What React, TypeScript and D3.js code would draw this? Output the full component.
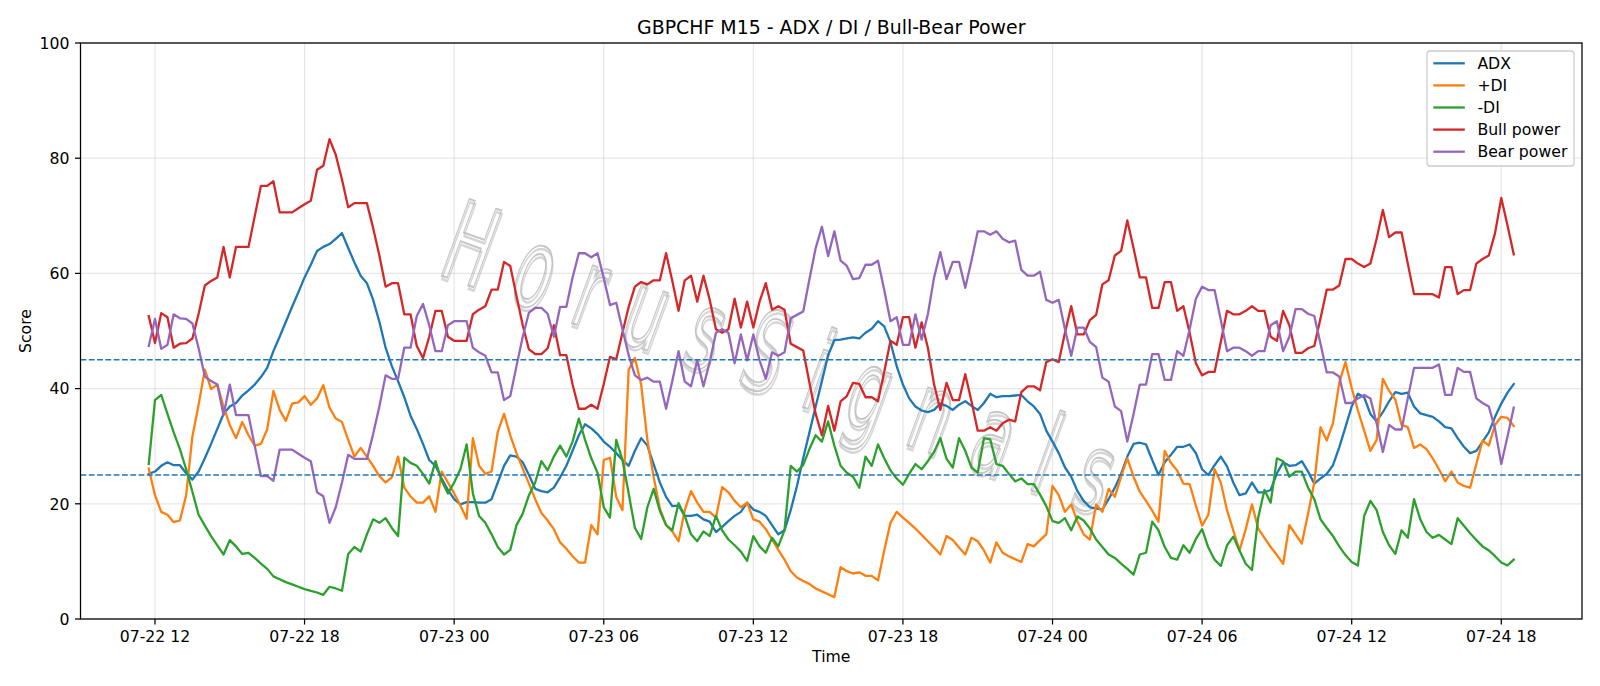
import React from "react";
import * as d3 from "d3";

// GBPCHF M15 bars, 15-minute spacing starting 07-22 11:45 (UTC)
const START_MS = Date.UTC(2025, 6, 22, 11, 45);
const STEP_MS = 15 * 60 * 1000;

const adx = [
  25.2, 25.6, 26.6, 27.2, 26.7, 26.7, 25.3, 24.2, 25.6, 27.9,
  30.4, 33.0, 35.6, 36.9, 37.5, 38.8, 39.7, 40.7, 42.0, 43.6,
  46.5, 49.0, 51.6, 54.2, 56.7, 59.3, 61.5, 63.9, 64.6, 65.1,
  66.0, 67.0, 64.4, 61.9, 59.6, 58.3,
  55.4, 51.6, 47.1, 43.9, 41.3, 38.5, 35.3, 33.0, 30.4, 27.6,
  26.6, 24.4, 22.4, 20.8, 19.9, 20.3, 20.3, 20.2, 20.2, 20.8,
  23.7, 26.6, 28.4, 28.2, 27.2, 25.0, 22.6, 22.2, 22.0, 22.8,
  24.6, 26.6, 29.2, 31.9, 33.8, 33.1, 32.1,
  30.8, 29.9, 28.8, 27.6, 26.6, 29.2, 31.4, 30.1, 26.9, 23.7,
  21.2, 19.6, 19.7, 17.9, 17.9, 18.1, 17.3, 16.9, 15.1, 16.0,
  17.0, 17.9, 18.6, 20.2, 19.0, 18.6, 17.9, 16.3, 14.7, 15.4,
  18.9, 23.1, 27.9, 32.4, 36.9, 41.3, 45.8,
  48.4, 48.5, 48.7, 48.9, 48.7, 49.7, 50.4, 51.7, 50.8, 48.1,
  43.9, 40.7, 38.3, 36.9, 36.2, 35.9, 36.3, 37.4, 37.0, 36.3,
  37.2, 37.8, 37.0, 36.3, 37.5, 39.1, 38.5, 38.7, 38.7, 38.8,
  38.9, 37.8, 36.9, 35.6, 32.7, 30.8, 28.8,
  26.3, 24.7, 22.2, 20.5, 19.4, 19.2, 19.0, 20.8, 22.8, 25.2,
  28.2, 30.4, 30.6, 30.3, 27.6, 25.0, 27.2, 28.5, 29.9, 29.9,
  30.3, 28.8, 26.0, 25.0, 26.7, 28.2, 26.5, 23.7, 21.5, 21.8,
  23.7, 22.0, 22.0, 22.4, 25.3, 27.2, 26.6,
  26.7, 27.4, 25.6, 23.5, 24.4, 25.2, 26.7, 29.8, 33.3, 36.9,
  39.1, 38.5, 35.6, 34.3, 35.9, 37.8, 39.4, 39.1, 39.3, 36.9,
  35.7, 35.4, 35.1, 34.3, 33.3, 33.1, 31.4, 29.9, 28.8, 29.2,
  30.8, 32.4, 35.1, 37.4, 39.3, 40.8,
];

const plusDi = [
  26.1, 21.5, 18.6, 18.1, 16.8, 17.1, 21.5, 31.7, 37.2, 43.3,
  39.9, 40.7, 36.9, 33.7, 31.4, 34.2, 31.9, 30.1, 30.4, 32.9,
  39.6, 36.3, 34.4, 37.4, 37.6, 38.7, 37.2, 38.3, 40.6, 36.7,
  34.8, 34.2, 31.1, 28.2, 29.7, 28.2,
  26.6, 24.8, 23.7, 24.6, 28.2, 22.8, 21.3, 20.2, 20.2, 21.3,
  18.6, 25.6, 23.7, 21.8, 19.7, 17.4, 31.4, 26.6, 25.2, 25.6,
  32.5, 35.6, 31.9, 28.8, 26.1, 23.5, 20.8, 18.4, 17.1, 15.6,
  13.3, 12.2, 10.9, 9.8, 9.8, 16.3, 14.7,
  27.6, 28.0, 21.2, 18.9, 43.3, 45.3, 40.7, 31.1, 24.7, 19.2,
  16.3, 15.2, 13.5, 18.9, 22.2, 20.2, 18.6, 18.6, 17.6, 22.9,
  22.0, 20.5, 19.4, 20.2, 17.3, 16.9, 15.6, 13.8, 12.0, 10.3,
  8.3, 7.2, 6.6, 6.1, 5.3, 4.8, 4.3,
  3.8, 9.0, 8.3, 7.9, 8.1, 7.5, 7.5, 6.7, 11.9, 16.7,
  18.6, 17.6, 16.7, 15.7, 14.6, 13.5, 12.4, 11.2, 14.4, 13.7,
  12.4, 11.2, 14.1, 13.5, 11.9, 9.8, 13.3, 11.5, 10.9, 10.4,
  9.9, 13.0, 12.6, 13.7, 14.7, 23.1, 21.5,
  18.6, 19.9, 16.9, 14.7, 13.8, 19.9, 18.6, 22.6, 21.2, 24.7,
  27.9, 24.7, 22.1, 20.5, 18.8, 16.9, 29.2, 27.1, 25.8, 23.5,
  23.4, 19.7, 16.2, 18.1, 26.0, 23.7, 18.9, 15.4, 11.9, 15.6,
  19.9, 15.7, 14.1, 12.5, 11.1, 9.6, 16.3,
  14.7, 13.1, 18.3, 23.7, 33.3, 31.0, 34.0, 41.0, 44.6, 40.1,
  36.2, 32.7, 29.2, 31.1, 41.7, 39.6, 38.1, 33.7, 33.3, 29.7,
  30.3, 29.5, 27.9, 26.0, 23.9, 25.6, 23.7, 23.1, 22.8, 26.9,
  31.0, 30.1, 33.7, 35.1, 34.9, 33.5,
];

const minusDi = [
  26.9, 38.0, 38.9, 35.6, 32.4, 29.5, 26.0, 22.1, 18.1, 16.2,
  14.4, 12.8, 11.2, 13.7, 12.6, 11.3, 11.5, 10.6, 9.6, 8.7,
  7.4, 6.9, 6.4, 6.0, 5.6, 5.2, 4.9, 4.6, 4.2, 5.6,
  5.3, 4.9, 11.3, 12.5, 11.7, 14.7,
  17.3, 16.7, 17.5, 15.8, 14.4, 28.0, 27.1, 26.6, 25.2, 23.5,
  27.4, 24.0, 21.8, 23.7, 26.0, 30.3, 21.8, 17.9, 16.7, 14.7,
  12.5, 11.2, 12.0, 16.3, 18.3, 21.5, 23.7, 27.4, 25.8, 28.2,
  30.1, 28.2, 30.8, 34.8, 31.1, 27.9, 25.4,
  19.4, 17.6, 31.1, 27.6, 21.8, 15.8, 13.9, 19.4, 22.6, 18.8,
  16.3, 15.4, 20.1, 17.9, 14.7, 13.5, 15.2, 14.4, 17.9, 15.4,
  13.8, 12.8, 11.7, 10.1, 14.4, 12.6, 11.5, 14.1, 12.6, 15.4,
  26.6, 25.6, 26.7, 29.5, 31.9, 30.8, 34.3,
  30.1, 26.6, 25.4, 24.7, 22.8, 28.2, 26.6, 30.3, 27.9, 25.8,
  24.4, 23.3, 25.2, 26.9, 26.0, 27.4, 29.0, 31.4, 27.8, 26.3,
  31.4, 29.2, 26.3, 25.4, 31.4, 31.2, 26.9, 26.6, 25.2, 23.9,
  24.4, 23.4, 23.4, 21.6, 19.6, 17.0, 16.7,
  17.5, 15.4, 17.8, 17.1, 15.7, 13.8, 12.5, 11.2, 10.6, 9.6,
  8.7, 7.7, 11.2, 11.5, 16.9, 15.4, 12.5, 10.6, 10.3, 12.8,
  11.5, 13.9, 15.6, 12.4, 10.3, 9.2, 12.8, 14.3, 11.9, 9.6,
  8.5, 17.6, 22.4, 20.2, 27.9, 27.4, 24.7,
  25.6, 25.6, 22.8, 20.8, 17.3, 15.8, 14.4, 12.6, 11.1, 9.9,
  9.3, 17.9, 20.5, 18.9, 15.1, 12.8, 11.3, 15.4, 14.1, 20.8,
  17.3, 15.1, 14.1, 14.6, 13.8, 13.0, 17.5, 16.2, 14.9, 13.7,
  12.6, 11.9, 10.9, 9.8, 9.3, 10.3,
];

const bullPower = [
  52.6, 47.9, 53.1, 52.4, 47.1, 47.8, 47.9, 48.7, 53.0, 57.9,
  58.7, 59.3, 64.6, 59.3, 64.6, 64.6, 64.6, 69.9, 75.2, 75.2,
  76.0, 70.6, 70.6, 70.6, 71.3, 72.0, 72.6, 78.0, 78.7, 83.3,
  80.6, 76.3, 71.5, 72.2, 72.2, 72.2,
  67.9, 63.1, 57.7, 58.3, 58.3, 52.9, 52.9, 47.4, 45.3, 49.0,
  53.5, 53.5, 49.0, 48.3, 48.3, 48.3, 52.9, 53.7, 54.3, 57.2,
  57.2, 62.0, 61.3, 56.1, 51.0, 46.8, 46.0, 46.0, 47.0, 51.0,
  45.8, 45.8, 40.7, 36.5, 36.5, 37.2, 36.5,
  40.8, 45.5, 45.1, 49.7, 54.2, 57.7, 58.5, 58.1, 58.8, 58.8,
  63.5, 58.7, 53.5, 58.8, 59.6, 55.1, 59.6, 55.4, 50.3, 49.7,
  50.3, 55.6, 50.6, 55.1, 50.6, 55.1, 58.3, 53.7, 54.3, 53.7,
  47.8, 47.2, 46.6, 41.0, 35.6, 31.9, 37.0,
  32.7, 37.8, 38.7, 41.0, 40.8, 38.5, 38.5, 37.8, 42.9, 48.3,
  47.6, 52.4, 52.4, 47.1, 51.5, 47.1, 40.7, 36.3, 41.0, 38.0,
  38.0, 42.5, 37.8, 32.7, 32.7, 33.3, 32.7, 34.0, 34.6, 34.3,
  39.4, 40.4, 40.4, 39.7, 44.6, 45.1, 44.6,
  49.7, 54.3, 49.4, 49.4, 51.9, 52.8, 58.1, 58.8, 63.1, 63.9,
  69.2, 64.4, 59.3, 59.3, 54.0, 54.0, 58.5, 58.5, 53.5, 54.3,
  49.7, 44.4, 42.3, 42.9, 42.9, 48.1, 53.5, 52.9, 52.9, 53.5,
  54.3, 53.5, 53.5, 49.0, 48.3, 53.5, 51.0,
  46.2, 46.2, 47.0, 47.4, 52.2, 57.2, 57.2, 57.9, 62.5, 62.5,
  61.7, 61.1, 61.7, 66.0, 71.0, 66.3, 67.1, 67.1, 61.7, 56.4,
  56.4, 56.4, 56.4, 55.8, 61.1, 61.1, 56.4, 57.1, 57.1, 61.7,
  62.5, 63.1, 67.0, 73.1, 68.3, 63.3,
];

const bearPower = [
  47.4, 52.1, 46.9, 47.6, 52.9, 52.2, 52.1, 51.3, 47.0, 42.1,
  41.3, 40.7, 35.4, 40.7, 35.4, 35.4, 35.4, 30.1, 24.8, 24.8,
  24.0, 29.4, 29.4, 29.4, 28.7, 28.0, 27.4, 22.0, 21.3, 16.7,
  19.4, 23.7, 28.5, 27.8, 27.8, 27.8,
  32.1, 36.9, 42.3, 41.7, 41.7, 47.1, 47.1, 52.6, 54.7, 51.0,
  46.5, 46.5, 51.0, 51.7, 51.7, 51.7, 47.1, 46.3, 45.7, 42.8,
  42.8, 38.0, 38.7, 43.9, 49.0, 53.2, 54.0, 54.0, 53.0, 49.0,
  54.2, 54.2, 59.3, 63.5, 63.5, 62.8, 63.5,
  59.2, 54.5, 54.9, 50.3, 45.8, 42.3, 41.5, 41.9, 41.2, 41.2,
  36.5, 41.3, 46.5, 41.2, 40.4, 44.9, 40.4, 44.6, 49.7, 50.3,
  49.7, 44.4, 49.4, 44.9, 49.4, 44.9, 41.7, 46.3, 45.7, 46.3,
  52.2, 52.8, 53.4, 59.0, 64.4, 68.1, 63.0,
  67.3, 62.2, 61.3, 59.0, 59.2, 61.5, 61.5, 62.2, 57.1, 51.7,
  52.4, 47.6, 47.6, 52.9, 48.5, 52.9, 59.3, 63.7, 59.0, 62.0,
  62.0, 57.5, 62.2, 67.3, 67.3, 66.7, 67.3, 66.0, 65.4, 65.7,
  60.6, 59.6, 59.6, 60.3, 55.4, 54.9, 55.4,
  50.3, 45.7, 50.6, 50.6, 48.1, 47.2, 41.9, 41.2, 36.9, 36.1,
  30.8, 35.6, 40.7, 40.7, 46.0, 46.0, 41.5, 41.5, 46.5, 45.7,
  50.3, 55.6, 57.7, 57.1, 57.1, 51.9, 46.5, 47.1, 47.1, 46.5,
  45.7, 46.5, 46.5, 51.0, 51.7, 46.5, 49.0,
  53.8, 53.8, 53.0, 52.6, 47.8, 42.8, 42.8, 42.1, 37.5, 37.5,
  38.3, 38.9, 38.3, 34.0, 29.0, 33.7, 32.9, 32.9, 38.3, 43.6,
  43.6, 43.6, 43.6, 44.2, 38.9, 38.9, 43.6, 42.9, 42.9, 38.3,
  37.5, 36.9, 33.0, 26.9, 31.7, 36.7,
];

const seriesNames = ["ADX", "+DI", "-DI", "Bull power", "Bear power"];
const seriesColors = ["#1f77b4", "#ff7f0e", "#2ca02c", "#d62728", "#9467bd"];
const seriesValues = [adx, plusDi, minusDi, bullPower, bearPower];

const yTicks = [0, 20, 40, 60, 80, 100];
const refLevels = [25, 45];

const TITLE = "GBPCHF M15 - ADX / DI / Bull-Bear Power";
const WATERMARK = "HorusSignals";

const W = 1600;
const H = 686;
const M = { left: 80.5, right: 1582, top: 43, bottom: 619 };
const FONT = "DejaVu Sans, Liberation Sans, sans-serif";

export default function App() {
  const times = adx.map((_, i) => new Date(START_MS + i * STEP_MS));
  const t0 = times[0].getTime();
  const t1 = times[times.length - 1].getTime();
  const pad = (t1 - t0) * 0.05;

  const x = d3
    .scaleUtc()
    .domain([new Date(t0 - pad), new Date(t1 + pad)])
    .range([M.left, M.right]);
  const y = d3.scaleLinear().domain([0, 100]).range([M.bottom, M.top]);

  const xTicks = x.ticks(d3.utcHour.every(6) as d3.TimeInterval);
  const fmt = d3.utcFormat("%m-%d %H");

  const line = d3
    .line<number>()
    .x((_, i) => x(times[i]))
    .y((d) => y(d));

  const cx = (M.left + M.right) / 2;
  const cy = (M.top + M.bottom) / 2;

  const legendX = 1427;
  const legendY = 51;
  const legendW = 147;
  const legendH = 115;
  const rowY = (k: number) => 63.3 + k * 22.1;

  const wmTransform = `translate(793, 362) rotate(20) scale(0.55, 1)`;

  return (
    <svg
      width={W}
      height={H}
      viewBox={`0 0 ${W} ${H}`}
      style={{ position: "absolute", left: 0, top: 0, display: "block", background: "#fff" }}
      fontFamily={FONT}
    >
      <defs>
        <clipPath id="plot-clip">
          <rect x={M.left} y={M.top} width={M.right - M.left} height={M.bottom - M.top} />
        </clipPath>
      </defs>
      <rect x={0} y={0} width={W} height={H} fill="#fff" />

      {/* grid */}
      <g stroke="#b0b0b0" strokeOpacity={0.3} strokeWidth={1.26}>
        {xTicks.map((t) => (
          <line key={"gx" + t.getTime()} x1={x(t)} x2={x(t)} y1={M.top} y2={M.bottom} />
        ))}
        {yTicks.map((v) => (
          <line key={"gy" + v} x1={M.left} x2={M.right} y1={y(v)} y2={y(v)} />
        ))}
      </g>

      {/* watermark */}
      <g clipPath="url(#plot-clip)" fontSize={112} textAnchor="middle" fill="none">
        <text
          transform={wmTransform}
          dominantBaseline="central"
          letterSpacing={50}
          stroke="#999999"
          strokeOpacity={0.4}
          strokeWidth={2.6}
          dx={3}
          dy={3}
        >
          {WATERMARK}
        </text>
        <text
          transform={wmTransform}
          dominantBaseline="central"
          letterSpacing={50}
          stroke="#bcbcbc"
          strokeOpacity={0.85}
          strokeWidth={2}
        >
          {WATERMARK}
        </text>
      </g>

      {/* series */}
      <g clipPath="url(#plot-clip)" fill="none" strokeWidth={2.3} strokeLinejoin="round" strokeLinecap="square">
        {seriesValues.map((vals, k) => (
          <path key={seriesNames[k]} d={line(vals) || ""} stroke={seriesColors[k]} />
        ))}
      </g>

      {/* reference levels */}
      <g stroke="#1f77b4" strokeWidth={1.5} strokeDasharray="5.8 2.5">
        {refLevels.map((v) => (
          <line key={"ref" + v} x1={M.left} x2={M.right} y1={y(v)} y2={y(v)} />
        ))}
      </g>

      {/* frame */}
      <rect
        x={M.left}
        y={M.top}
        width={M.right - M.left}
        height={M.bottom - M.top}
        fill="none"
        stroke="#000"
        strokeWidth={1.26}
      />

      {/* x axis */}
      <g fontSize={15.7} fill="#000" textAnchor="middle">
        {xTicks.map((t) => (
          <g key={"xt" + t.getTime()}>
            <line x1={x(t)} x2={x(t)} y1={M.bottom} y2={M.bottom + 5.5} stroke="#000" strokeWidth={1.26} />
            <text x={x(t)} y={641.5}>
              {fmt(t)}
            </text>
          </g>
        ))}
        <text x={cx} y={661.5}>
          Time
        </text>
      </g>

      {/* y axis */}
      <g fontSize={15.7} fill="#000">
        {yTicks.map((v) => (
          <g key={"yt" + v}>
            <line x1={M.left - 5.5} x2={M.left} y1={y(v)} y2={y(v)} stroke="#000" strokeWidth={1.26} />
            <text x={M.left - 11} y={y(v) + 5.7} textAnchor="end">
              {v}
            </text>
          </g>
        ))}
        <text transform={`translate(31, ${cy}) rotate(-90)`} textAnchor="middle">
          Score
        </text>
      </g>

      {/* title */}
      <text x={cx} y={33.6} textAnchor="middle" fontSize={18.9} fill="#000">
        {TITLE}
      </text>

      {/* legend */}
      <g>
        <rect
          x={legendX}
          y={legendY}
          width={legendW}
          height={legendH}
          rx={3}
          ry={3}
          fill="#fff"
          fillOpacity={0.8}
          stroke="#cccccc"
          strokeWidth={1.26}
        />
        {seriesNames.map((name, k) => (
          <g key={"lg" + name}>
            <line
              x1={legendX + 6.3}
              x2={legendX + 6.3 + 31.5}
              y1={rowY(k)}
              y2={rowY(k)}
              stroke={seriesColors[k]}
              strokeWidth={2.3}
            />
            <text x={legendX + 50.4} y={rowY(k) + 5.6} fontSize={15.7} fill="#000">
              {name}
            </text>
          </g>
        ))}
      </g>
    </svg>
  );
}
